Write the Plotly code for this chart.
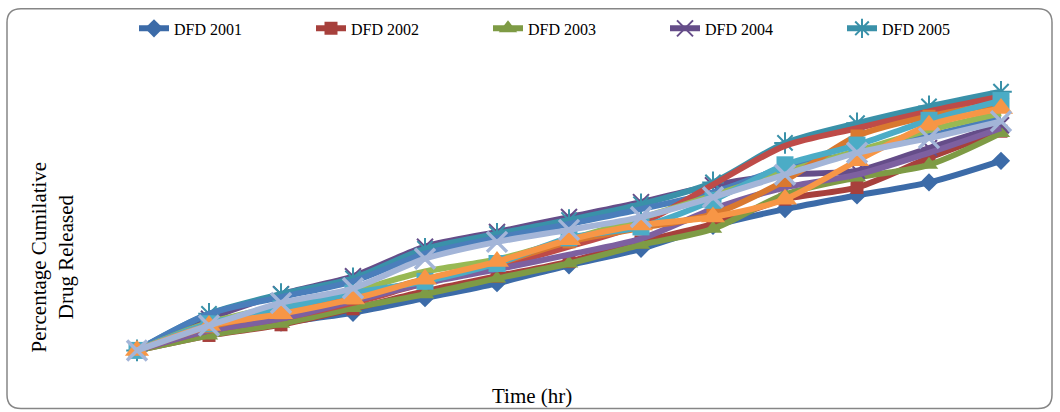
import plotly.graph_objects as go

# Time points (hr) - categories
time_hr = list(range(13))

# Series values (percentage cumulative drug released)
dfd2001 = [0, 6.7, 10.4, 14.1, 19.6, 25.2, 31.9, 38.1, 46.7, 53.0, 58.1, 63.0, 71.1]
dfd2002 = [0, 5.6, 9.6, 15.6, 22.2, 27.8, 33.3, 40.7, 47.4, 56.7, 61.1, 72.2, 82.2]
dfd2003 = [0, 5.6, 10.0, 15.9, 21.1, 27.0, 32.6, 39.6, 45.6, 58.5, 64.8, 69.6, 81.5]
dfd2004 = [0, 11.9, 21.1, 27.8, 38.9, 44.4, 50.0, 55.6, 61.9, 65.9, 67.4, 75.9, 84.4]
dfd2005 = [0, 13.7, 21.1, 27.0, 38.1, 43.7, 48.9, 54.8, 63.0, 77.8, 85.2, 91.5, 97.0]
s6 = [0, 13.7, 20.0, 25.9, 36.3, 42.2, 47.4, 53.0, 59.3, 68.5, 74.1, 80.4, 87.0]
s7 = [0, 7.4, 11.9, 17.8, 25.2, 31.5, 38.9, 47.4, 62.2, 76.7, 83.3, 89.6, 95.2]
s8 = [0, 10.4, 16.7, 22.2, 29.6, 34.1, 41.5, 49.6, 58.1, 67.0, 74.8, 82.6, 88.9]
s9 = [0, 7.4, 11.9, 18.5, 25.2, 30.4, 35.9, 41.9, 53.0, 61.1, 65.9, 74.1, 83.3]
s10 = [0, 8.9, 14.1, 19.6, 26.7, 32.6, 40.7, 45.9, 51.1, 63.7, 80.4, 87.8, 92.6]
s11 = [0, 10.0, 15.6, 21.5, 25.9, 32.6, 42.2, 46.3, 56.3, 69.6, 77.0, 86.3, 93.7]
s12 = [0, 9.3, 13.7, 19.3, 26.7, 33.3, 41.5, 47.0, 50.0, 56.7, 71.1, 84.4, 90.7]
s13 = [0, 9.3, 17.8, 23.3, 34.4, 40.7, 45.2, 50.0, 57.4, 65.9, 74.1, 79.6, 85.9]

legend_names = ["DFD 2001", "DFD 2002", "DFD 2003", "DFD 2004", "DFD 2005"]

FONT = "Liberation Serif, Times New Roman, serif"

# layout geometry
W, H = 1060, 412
L, R, T, B = 101, 23, 60, 40
PW, PH = W - L - R, H - T - B


def fx(px):
    return (px - L) / PW


def fy(py):
    return (H - B - py) / PH


fig = go.Figure()

series = [
    (dfd2001, legend_names[0], "#3C6BA8", "diamond", 14, 0, True),
    (dfd2002, legend_names[1], "#A7403C", "square", 13, 0, True),
    (dfd2003, legend_names[2], "#7E9B45", "triangle-up", 16, 0, True),
    (dfd2004, legend_names[3], "#654D89", "x-thin-open", 16, 2, True),
    (dfd2005, legend_names[4], "#3A91A9", "asterisk-open", 18, 2, True),
    (s6, "s6", "#4A7EBB", "circle", 0, 0, False),
    (s7, "s7", "#BE4B48", "circle", 0, 0, False),
    (s8, "s8", "#98B954", "circle", 0, 0, False),
    (s9, "s9", "#7D60A0", "circle", 0, 0, False),
    (s10, "s10", "#D9782F", "square", 13, 0, False),
    (s11, "s11", "#4BACC6", "square", 17, 0, False),
    (s12, "s12", "#F79646", "triangle-up", 21, 0, False),
    (s13, "s13", "#A3B5D8", "x-thin-open", 20, 3.5, False),
]

for vals, name, col, sym, msize, mlw, showleg in series:
    marker = dict(symbol=sym, size=msize, color=col)
    if mlw:
        marker["line"] = dict(color=col, width=mlw)
    fig.add_trace(go.Scatter(
        x=time_hr, y=vals, name=name,
        mode="lines+markers" if msize else "lines",
        line=dict(color=col, width=6, shape="spline", smoothing=0.8),
        marker=marker,
        showlegend=showleg,
        hoverinfo="skip",
    ))

# rounded border around the whole chart
x0, y0, x1, y1, r = 7, 4, 1052, 409, 14
path = (
    f"M {fx(x0 + r)},{fy(y0)} L {fx(x1 - r)},{fy(y0)} "
    f"Q {fx(x1)},{fy(y0)} {fx(x1)},{fy(y0 + r)} "
    f"L {fx(x1)},{fy(y1 - r)} Q {fx(x1)},{fy(y1)} {fx(x1 - r)},{fy(y1)} "
    f"L {fx(x0 + r)},{fy(y1)} Q {fx(x0)},{fy(y1)} {fx(x0)},{fy(y1 - r)} "
    f"L {fx(x0)},{fy(y0 + r)} Q {fx(x0)},{fy(y0)} {fx(x0 + r)},{fy(y0)} Z"
)

fig.update_layout(
    width=W, height=H,
    margin=dict(l=L, r=R, t=T, b=B),
    paper_bgcolor="white", plot_bgcolor="white",
    font=dict(family=FONT, color="black"),
    xaxis=dict(range=[-0.5, 12.5], showticklabels=False, showgrid=False,
               zeroline=False, showline=False, ticks=""),
    yaxis=dict(range=[-8.1, 107.4], showticklabels=False, showgrid=False,
               zeroline=False, showline=False, ticks=""),
    legend=dict(orientation="h", x=fx(134), y=fy(24), xanchor="left", yanchor="middle",
                font=dict(family=FONT, size=16, color="black"),
                entrywidth=132, entrywidthmode="pixels",
                bgcolor="rgba(0,0,0,0)"),
    shapes=[dict(type="path", path=path, xref="paper", yref="paper",
                 line=dict(color="#868686", width=1.5), layer="below")],
    annotations=[
        dict(text="Percentage Cumilative<br>Drug Released", textangle=-90,
             x=fx(52), y=fy(256), xref="paper", yref="paper", showarrow=False,
             xanchor="center", yanchor="middle",
             font=dict(family=FONT, size=21, color="black")),
        dict(text="Time (hr)", x=fx(532), y=fy(396), xref="paper", yref="paper",
             showarrow=False, xanchor="center", yanchor="middle",
             font=dict(family=FONT, size=21, color="black")),
    ],
)

fig.write_html("out.html")
